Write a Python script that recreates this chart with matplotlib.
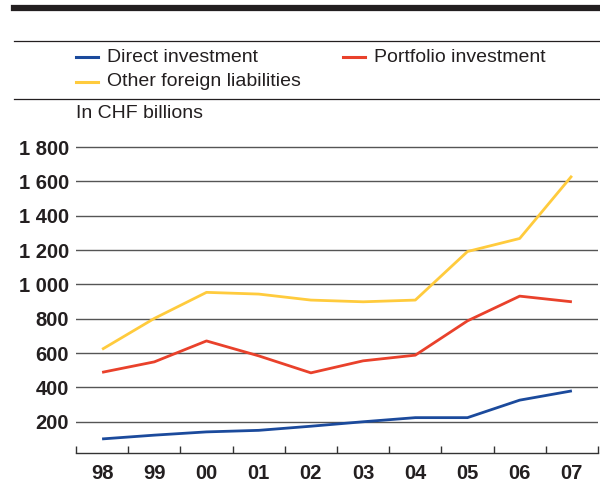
import numpy as np
import matplotlib
matplotlib.use('Agg')
import matplotlib.pyplot as plt
from matplotlib.lines import Line2D
from matplotlib.ticker import FuncFormatter, FixedLocator

# ── data ────────────────────────────────────────────────────
years = ['98', '99', '00', '01', '02', '03', '04', '05', '06', '07']
direct_inv = [100, 122, 141, 150, 174, 200, 224, 224, 326, 380]
portfolio_inv = [488, 549, 671, 584, 485, 555, 588, 788, 932, 899]
other_liab = [622, 802, 954, 944, 909, 899, 909, 1192, 1268, 1633]
y_ticks = [200, 400, 600, 800, 1000, 1200, 1400, 1600, 1800]

series = [
    ('Direct investment', direct_inv, '#1B4A9C'),
    ('Portfolio investment', portfolio_inv, '#E9412B'),
    ('Other foreign liabilities', other_liab, '#FFCB3D'),
]

plt.rcParams['font.family'] = ['Liberation Sans', 'DejaVu Sans']
W, H = 600, 483
fig = plt.figure(figsize=(W / 100, H / 100), dpi=100)
fig.patch.set_facecolor('white')

def fx(px):
    return px / W

def fy(py):
    return 1 - py / H

# axes: left edge 76px, right 598px, bottom 453px, top 130px
ax = fig.add_axes([fx(76), fy(453), fx(598) - fx(76), fy(130) - fy(453)])
x = np.arange(len(years))
for name, vals, col in series:
    ax.plot(x, vals, color=col, lw=2.0, solid_capstyle='butt', zorder=3)

ax.set_xlim(-0.5, len(years) - 0.5)
ax.set_ylim(18, 1900)

# gridlines
for v in y_ticks:
    ax.axhline(v, color='#555555', lw=1.0, zorder=1)

ax.yaxis.set_major_locator(FixedLocator(y_ticks))
ax.yaxis.set_major_formatter(FuncFormatter(lambda v, p: f"{int(v):,}".replace(',', ' ')))
ax.tick_params(axis='y', length=0, pad=5, labelsize=14.5)
for lab in ax.get_yticklabels():
    lab.set_fontweight('bold')
    lab.set_color('#231f20')

ax.set_xticks(x)
ax.set_xticklabels(years, fontsize=14.5, fontweight='bold', color='#231f20')
ax.tick_params(axis='x', which='major', length=0, pad=8)
ax.set_xticks(np.arange(-0.5, len(years)), minor=True)
ax.tick_params(axis='x', which='minor', direction='in', length=5, width=1.0, color='#333333')

for s in ['top', 'right', 'left']:
    ax.spines[s].set_visible(False)
ax.spines['bottom'].set_color('#333333')
ax.spines['bottom'].set_linewidth(1.0)

# header rules
fig.add_artist(Line2D([fx(14), 1], [fy(8), fy(8)], color='#231f20', lw=4.5))
fig.add_artist(Line2D([fx(14), 1], [fy(41), fy(41)], color='#231f20', lw=0.9))
fig.add_artist(Line2D([fx(14), 1], [fy(98.5), fy(98.5)], color='#231f20', lw=0.9))

# legend
leg_pos = [(76, 57), (343, 57), (76, 82)]
for (name, vals, col), (lx, ly) in zip(series, leg_pos):
    fig.add_artist(Line2D([fx(lx), fx(lx + 22)], [fy(ly), fy(ly)], color=col, lw=2.2))
    fig.text(fx(lx + 31), fy(ly), name, fontsize=14, color='#231f20', va='center', ha='left')

fig.text(fx(76), fy(113), 'In CHF billions', fontsize=14, color='#231f20', va='center', ha='left')

plt.savefig('out.png', dpi=100, facecolor='white')
